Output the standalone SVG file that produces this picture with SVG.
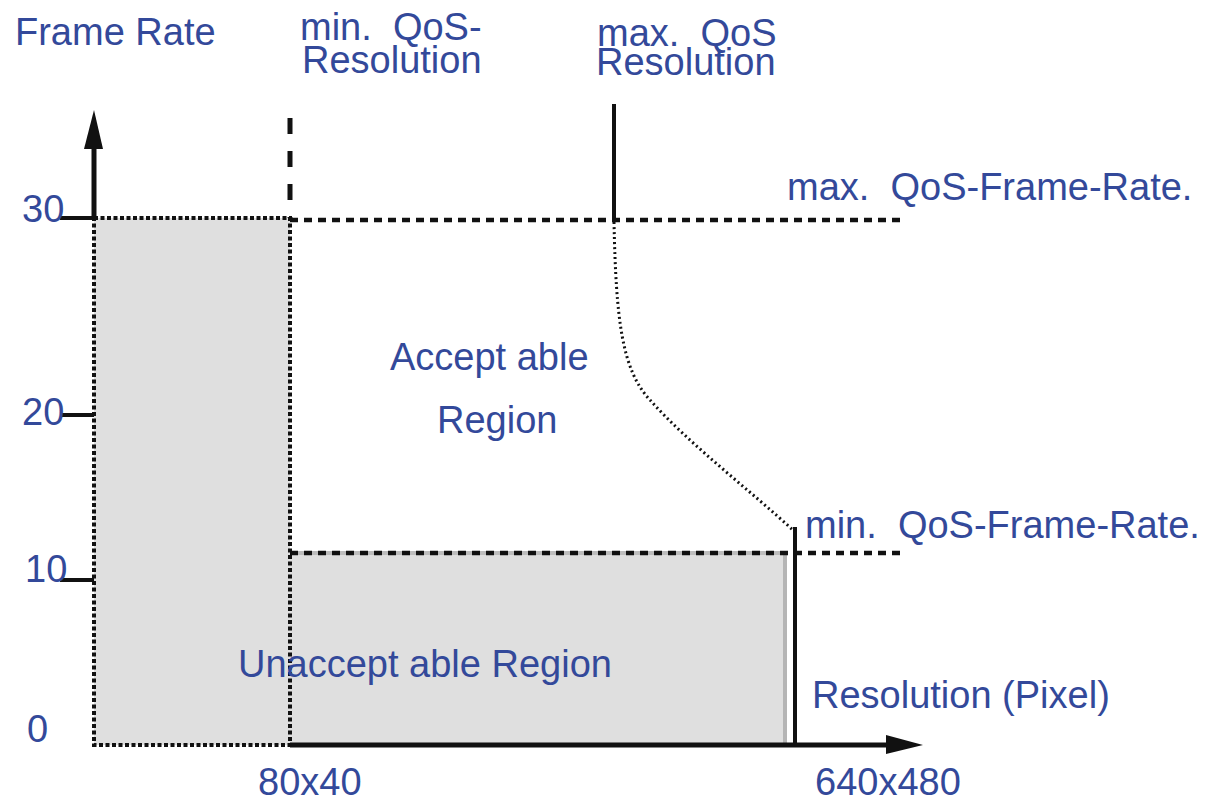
<svg xmlns="http://www.w3.org/2000/svg" width="1205" height="802" viewBox="0 0 1205 802">
<style>
text{font-family:"Liberation Sans",Arial,sans-serif;font-size:38px;fill:#33499a;white-space:pre}
.ax{stroke:#111;stroke-width:5;fill:none}
.tick{stroke:#111;stroke-width:4;fill:none}
.dot{stroke:#111;stroke-width:4;stroke-dasharray:4 2.5;fill:none}
.dash{stroke:#111;stroke-width:4.5;stroke-dasharray:8 6;fill:none}
.solid{stroke:#111;stroke-width:4;fill:none}
</style>
<rect width="1205" height="802" fill="#fff"/>
<g id="unacceptable-regions">
<rect x="94" y="218" width="196" height="527" fill="#dfdfdf"/>
<rect x="290" y="553" width="495" height="192" fill="#dfdfdf"/>
<line x1="785" y1="553" x2="785" y2="745" stroke="#b5b5b5" stroke-width="4"/>
<line x1="290" y1="553" x2="785" y2="553" stroke="#bdbdbd" stroke-width="4"/>
<rect x="94" y="218" width="196" height="527" class="dot"/>
</g>
<g id="axes">
<line x1="94" y1="218" x2="94" y2="148" class="ax"/>
<path d="M84,149 L94,110 L103,149 z" fill="#111"/>
<line x1="290" y1="745" x2="887" y2="745" class="ax"/>
<path d="M886,735 L923,745 L886,754 z" fill="#111"/>
<line x1="60" y1="218" x2="94" y2="218" class="tick"/>
<line x1="60" y1="415" x2="94" y2="415" class="tick"/>
<line x1="60" y1="580" x2="94" y2="580" class="tick"/>
</g>
<g id="connectors">
<line x1="290" y1="118" x2="290" y2="218" stroke="#111" stroke-width="5" stroke-dasharray="16 17"/>
<line x1="290" y1="220" x2="905" y2="220" class="dash"/>
<line x1="290" y1="553" x2="905" y2="553" class="dash"/>
<line x1="614" y1="104" x2="614" y2="220" class="solid"/>
<line x1="795" y1="527" x2="795" y2="745" class="solid"/>
<path d="M614,222 C616,320 622,370 650,400 C690,445 750,490 795,532" stroke="#111" stroke-width="3" stroke-dasharray="2 3" fill="none"/>
</g>
<g id="labels">
<text x="15" y="45">Frame Rate</text>
<text x="300" y="40">min.  QoS-</text>
<text x="302" y="73">Resolution</text>
<text x="597" y="46">max.  QoS</text>
<text x="596" y="75">Resolution</text>
<text x="787" y="200">max.  QoS-Frame-Rate.</text>
<text x="805" y="538">min.  QoS-Frame-Rate.</text>
<text x="390" y="370">Accept able</text>
<text x="437" y="433">Region</text>
<text x="238" y="677">Unaccept able Region</text>
<text x="812" y="708">Resolution (Pixel)</text>
<text x="22" y="222">30</text>
<text x="22" y="425">20</text>
<text x="25" y="582">10</text>
<text x="27" y="742">0</text>
<text x="258" y="795">80x40</text>
<text x="815" y="795">640x480</text>
</g>
</svg>
